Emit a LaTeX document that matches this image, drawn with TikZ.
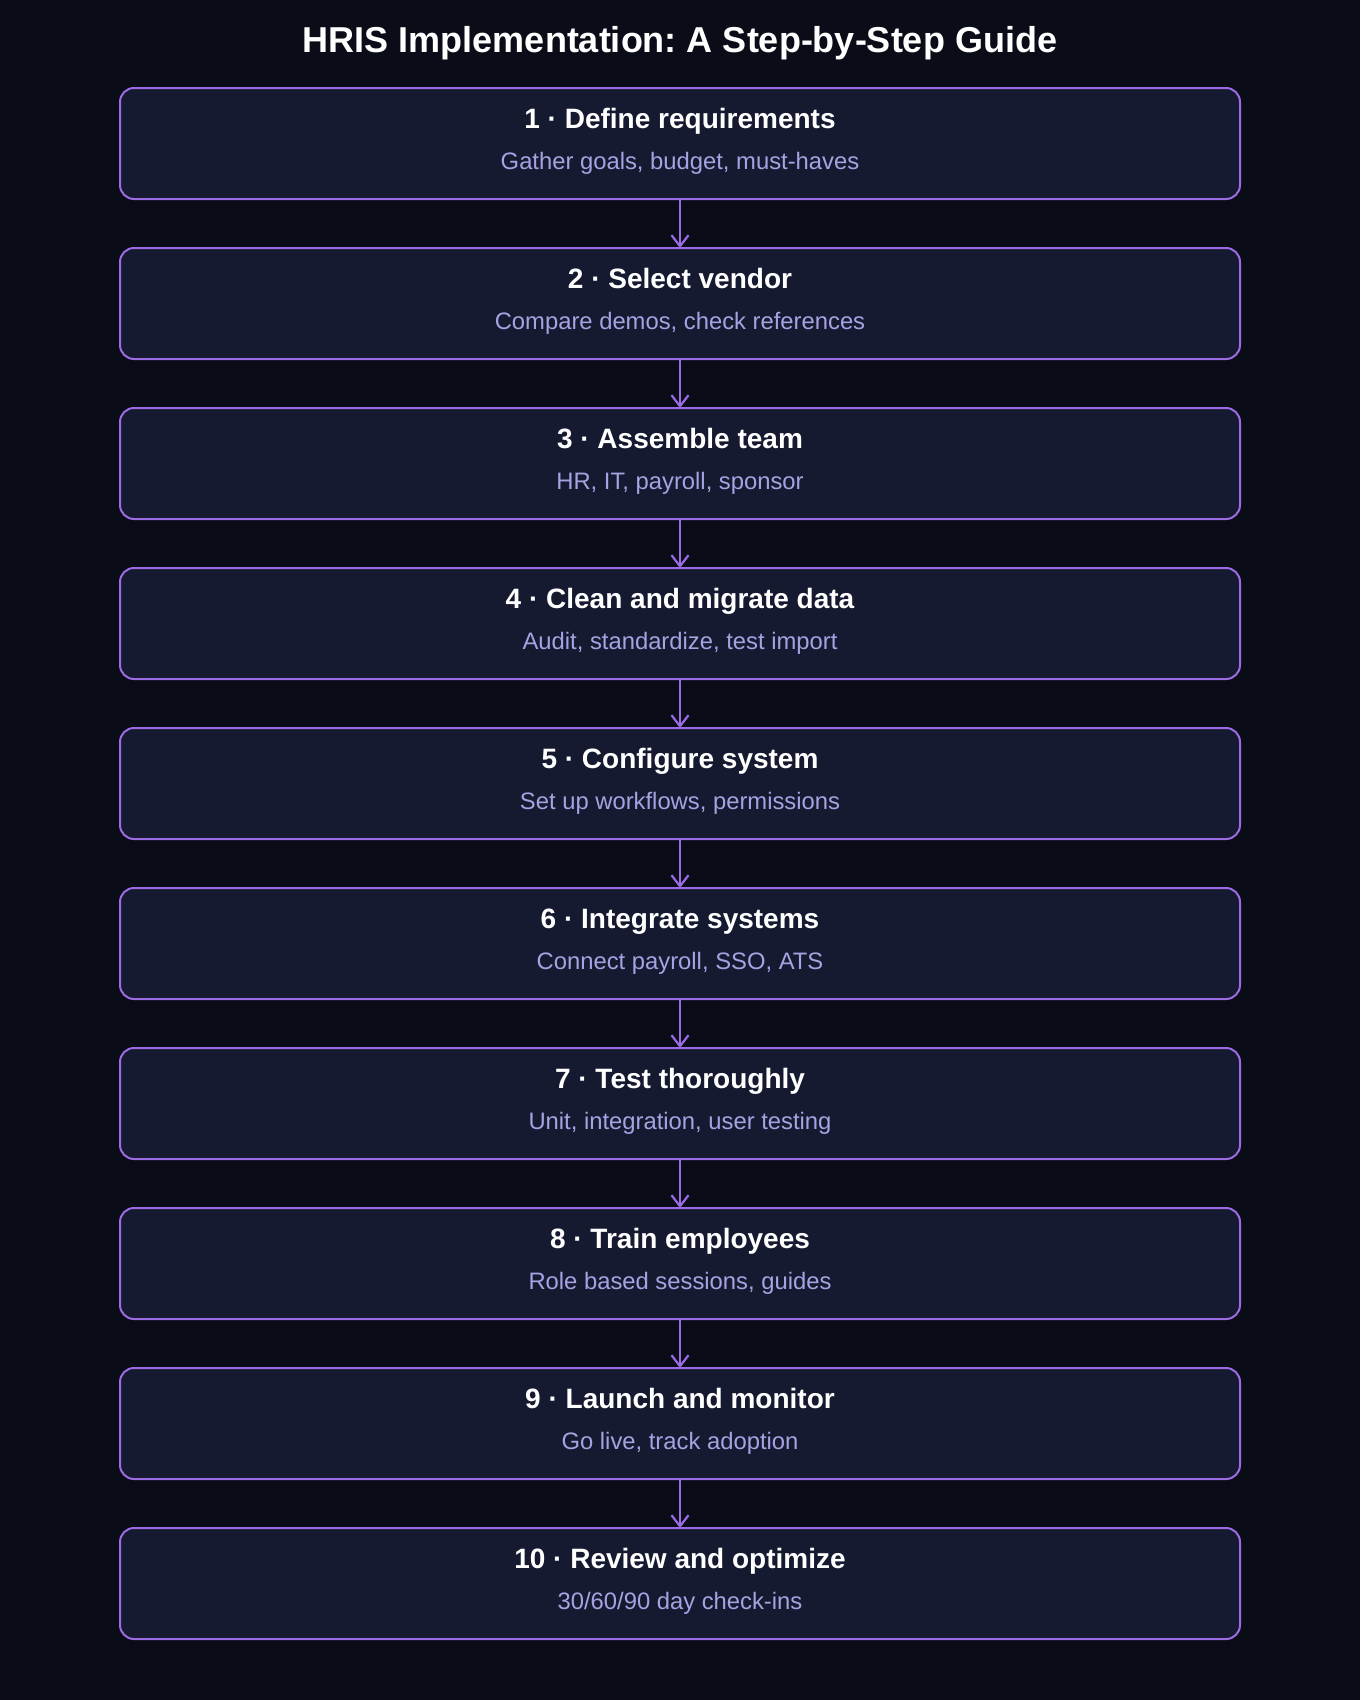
\documentclass[tikz,border=0pt]{standalone}
\usepackage{fontspec}
\setmainfont{Liberation Sans}
\usetikzlibrary{arrows.meta}
\frenchspacing
\definecolor{bgc}{HTML}{0A0D18}
\definecolor{boxfill}{HTML}{161A30}
\definecolor{boxline}{HTML}{9B6BE6}
\definecolor{subc}{HTML}{A7A2E2}
\tikzset{
  stepbox/.style={draw=boxline, line width=2pt, fill=boxfill, rounded corners=14pt,
    minimum width=1120pt, minimum height=111pt, inner sep=0pt, outer sep=0pt},
  steptitle/.style={anchor=base, text=white, font=\fontsize{28pt}{32pt}\selectfont\bfseries, inner sep=0pt},
  stepsub/.style={anchor=base, text=subc, font=\fontsize{23.8pt}{28pt}\selectfont, inner sep=0pt},
  flow/.style={draw=boxline, line width=2.2pt, -{Straight Barb[length=11pt,width=17pt,line width=2.2pt]}},
}
\begin{document}
\begin{tikzpicture}[x=1pt,y=1pt]
\fill[bgc] (0,0) rectangle (1360,-1700);
\useasboundingbox (0,0) rectangle (1360,-1700);
\node[anchor=base, text=white, font=\fontsize{36pt}{40pt}\selectfont\bfseries, inner sep=0pt] (title) at (680,-52) {HRIS Implementation: A Step-by-Step Guide};
\foreach \i/\t/\s in {
 1/{1 · Define requirements}/{Gather goals, budget, must-haves},
 2/{2 · Select vendor}/{Compare demos, check references},
 3/{3 · Assemble team}/{HR, IT, payroll, sponsor},
 4/{4 · Clean and migrate data}/{Audit, standardize, test import},
 5/{5 · Configure system}/{Set up workflows, permissions},
 6/{6 · Integrate systems}/{Connect payroll, SSO, ATS},
 7/{7 · Test thoroughly}/{Unit, integration, user testing},
 8/{8 · Train employees}/{Role based sessions, guides},
 9/{9 · Launch and monitor}/{Go live, track adoption},
 10/{10 · Review and optimize}/{30/60/90 day check-ins}}{
  \pgfmathsetmacro{\top}{-88-160*(\i-1)}
  \node[stepbox] (b\i) at (680,\top-55.5) {};
  \node[steptitle] (t\i) at (680,\top-40.5) {\t};
  \node[stepsub] (s\i) at (680,\top-81.5) {\s};
}
\foreach \i [evaluate=\i as \j using int(\i+1)] in {1,...,9}{
  \draw[flow] (b\i.south) -- (b\j.north);
}
\end{tikzpicture}
\end{document}
